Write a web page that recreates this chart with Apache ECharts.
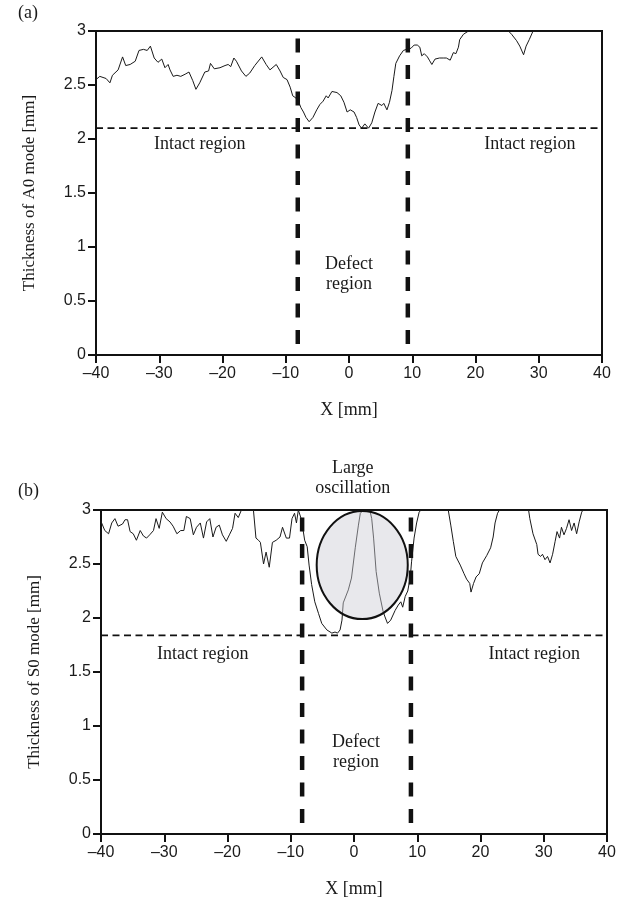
<!DOCTYPE html>
<html lang="en">
<head>
    <meta charset="utf-8">
    <title>Thickness A0 / S0</title>
    <script src="https://cdn.jsdelivr.net/npm/echarts@6/dist/echarts.min.js"></script>
    <style>
        html, body { margin: 0; height: 100%; background: #fff; }
        #main { width: 627px; height: 905px; }
    </style>
</head>
<body>
<div id="main"></div>
<script>
    // x ticks / y ticks
    var xTicks = [-40, -30, -20, -10, 0, 10, 20, 30, 40];
    var yTicks = [0, 0.5, 1, 1.5, 2, 2.5, 3];

    // (a) A0 mode thickness curve  [x mm, thickness mm]
    var curveA = [
        [-40, 2.55], [-39.4, 2.58], [-38.4, 2.56], [-37.8, 2.52], [-37.4, 2.59], [-36.5, 2.64],
        [-35.8, 2.76], [-35.3, 2.68], [-34.6, 2.69], [-33.8, 2.72], [-33.2, 2.82], [-32.5, 2.83],
        [-31.9, 2.82], [-31.4, 2.86], [-30.8, 2.75], [-30.2, 2.71], [-29.6, 2.74], [-29.1, 2.66],
        [-28.6, 2.69], [-28.3, 2.64], [-27.8, 2.58], [-27.2, 2.59], [-26.6, 2.58], [-25.9, 2.60],
        [-25.3, 2.62], [-24.7, 2.54], [-24.2, 2.46], [-23.6, 2.52], [-22.8, 2.62], [-22.2, 2.63],
        [-21.9, 2.70], [-21.3, 2.65], [-20.4, 2.66], [-19.6, 2.68], [-19.1, 2.69], [-18.7, 2.67],
        [-18.2, 2.75], [-17.8, 2.72], [-17.0, 2.63], [-16.3, 2.58], [-15.7, 2.61], [-14.9, 2.68],
        [-13.8, 2.76], [-13.1, 2.69], [-12.5, 2.64], [-11.5, 2.69], [-10.9, 2.63], [-10.4, 2.57],
        [-9.8, 2.55], [-9.3, 2.48], [-8.9, 2.40], [-8.4, 2.38], [-8.0, 2.35], [-7.6, 2.29],
        [-7.2, 2.25], [-6.8, 2.20], [-6.3, 2.16], [-5.7, 2.20], [-5.1, 2.27], [-4.6, 2.32],
        [-4.1, 2.35], [-3.6, 2.40], [-3.3, 2.38], [-2.7, 2.44], [-1.9, 2.43], [-1.3, 2.40],
        [-0.8, 2.34], [-0.3, 2.25], [0.2, 2.27], [0.8, 2.25], [1.2, 2.20], [1.6, 2.13],
        [2.0, 2.10], [2.5, 2.14], [3.1, 2.10], [3.6, 2.15], [4.1, 2.25], [4.6, 2.33],
        [5.2, 2.31], [5.5, 2.33], [6.0, 2.27], [6.4, 2.34], [6.8, 2.45], [7.1, 2.58],
        [7.4, 2.70], [8.0, 2.77], [8.6, 2.82], [9.1, 2.83], [9.8, 2.84], [10.3, 2.87],
        [10.8, 2.87], [11.2, 2.85], [11.5, 2.77], [11.9, 2.79], [12.4, 2.76], [12.7, 2.73],
        [13.1, 2.69], [13.6, 2.74], [14.3, 2.75], [14.9, 2.75], [15.4, 2.75], [16.0, 2.73],
        [16.5, 2.80], [16.9, 2.79], [17.3, 2.85], [17.5, 2.92], [18.1, 2.97], [18.9, 3.0],
        [25.2, 3.0], [25.7, 2.97], [26.5, 2.91], [27.0, 2.86], [27.6, 2.78], [28.0, 2.86],
        [28.5, 2.92], [29.1, 3.0], [40, 3.0]
    ];

    // (b) S0 mode thickness curve
    var curveB = [
        [-40, 2.9], [-39.9, 2.88], [-39.4, 2.81], [-38.8, 2.78], [-38.3, 2.88], [-37.8, 2.92],
        [-37.3, 2.85], [-36.6, 2.87], [-36.2, 2.91], [-35.8, 2.91], [-35.4, 2.80], [-34.9, 2.78],
        [-34.4, 2.72], [-33.8, 2.81], [-33.3, 2.76], [-32.8, 2.74], [-32.3, 2.77], [-31.7, 2.81],
        [-31.3, 2.92], [-30.8, 2.83], [-30.3, 2.98], [-29.7, 2.92], [-29.1, 2.89], [-28.6, 2.85],
        [-28.0, 2.78], [-27.4, 2.81], [-26.9, 2.81], [-26.5, 2.94], [-25.9, 2.92], [-25.4, 2.77],
        [-24.9, 2.84], [-24.3, 2.88], [-23.8, 2.74], [-23.3, 2.89], [-22.8, 2.92], [-22.3, 2.75],
        [-21.8, 2.84], [-21.3, 2.86], [-20.8, 2.77], [-20.2, 2.71], [-19.7, 2.77], [-19.2, 2.83],
        [-18.8, 2.97], [-18.3, 2.93], [-17.8, 3.0], [-15.9, 3.0], [-15.5, 2.74], [-15.1, 2.72],
        [-14.8, 2.70], [-14.3, 2.50], [-13.9, 2.61], [-13.4, 2.47], [-12.9, 2.70], [-12.3, 2.72],
        [-11.7, 2.75], [-11.3, 2.84], [-10.7, 2.74], [-10.2, 2.74], [-9.8, 2.92], [-9.4, 2.97],
        [-9.1, 2.88], [-8.8, 3.0], [-8.3, 2.91], [-7.8, 2.72], [-7.4, 2.66], [-7.1, 2.49],
        [-6.7, 2.31], [-6.2, 2.15], [-5.6, 2.04], [-5.1, 1.95], [-4.3, 1.89], [-3.5, 1.86],
        [-3.0, 1.87], [-2.6, 1.86], [-2.2, 1.89], [-1.9, 1.98], [-1.7, 2.14], [-0.9, 2.26],
        [-0.4, 2.37], [0.2, 2.65], [0.7, 2.86], [1.0, 2.97], [1.5, 3.0], [2.5, 3.0],
        [2.8, 2.92], [3.1, 2.74], [3.5, 2.43], [4.0, 2.23], [4.6, 2.06], [4.9, 2.01],
        [5.3, 1.95], [5.8, 1.98], [6.5, 2.07], [7.0, 2.12], [7.4, 2.15], [7.7, 2.10],
        [8.1, 2.20], [8.5, 2.25], [8.9, 2.38], [9.1, 2.52], [9.5, 2.74], [9.9, 2.88],
        [10.3, 2.98], [10.6, 3.0], [14.9, 3.0], [15.3, 2.86], [15.7, 2.71], [16.1, 2.57],
        [16.8, 2.49], [17.4, 2.41], [17.8, 2.36], [18.3, 2.32], [18.5, 2.24], [18.9, 2.32],
        [19.3, 2.38], [19.8, 2.41], [20.3, 2.51], [21.0, 2.58], [21.6, 2.65], [22.0, 2.75],
        [22.3, 2.88], [22.7, 2.97], [23.0, 3.0], [27.6, 3.0], [27.8, 2.92], [28.3, 2.78],
        [28.9, 2.68], [29.1, 2.59], [29.5, 2.57], [29.8, 2.59], [30.2, 2.54], [30.6, 2.57],
        [31.0, 2.51], [31.4, 2.59], [31.8, 2.71], [32.1, 2.80], [32.5, 2.74], [32.8, 2.84],
        [33.2, 2.77], [33.6, 2.83], [34.0, 2.91], [34.4, 2.81], [34.8, 2.88], [35.2, 2.78],
        [35.6, 2.89], [36.0, 2.98], [36.2, 3.0], [40, 3.0]
    ];

    // reference lines
    var intactA = 2.1, intactB = 1.84;          // horizontal dashed levels
    var defectA = [-8.1, 9.3], defectB = [-8.2, 9.0]; // vertical dashed positions
    var defectSpan = [2.93, 0.04];              // vertical dashed extent (top -> bottom)

    // annotations  [x, y] in data units
    var notesA = [
        { text: 'Intact region', at: [-23.6, 1.95] },
        { text: 'Intact region', at: [28.6, 1.95] },
        { text: 'Defect\nregion', at: [0, 0.75] }
    ];
    var notesB = [
        { text: 'Intact region', at: [-23.9, 1.66] },
        { text: 'Intact region', at: [28.5, 1.66] },
        { text: 'Defect\nregion', at: [0.3, 0.76] },
        { text: 'Large\noscillation', at: [-0.2, 3.29] }
    ];
    var oscEllipse = { center: [1.3, 2.49], rx: 7.2, ry: 0.5 };

    var SERIF = 'Liberation Serif';
    var SANS = 'Liberation Sans';
    var INK = '#1a1a1a';

    function xAxisOf(gi) {
        return {
            type: 'value', gridIndex: gi, min: -40, max: 40, interval: 10,
            name: 'X [mm]', nameLocation: 'middle', nameGap: 46,
            nameTextStyle: { fontFamily: SERIF, fontSize: 18, color: INK },
            axisLine: { show: true, onZero: false, lineStyle: { color: '#111', width: 2 } },
            axisTick: { show: true, length: 8, lineStyle: { color: '#111', width: 2 } },
            axisLabel: {
                fontFamily: SANS, fontSize: 16, color: INK, margin: 11,
                formatter: function (v) { return String(v).replace('-', '\u2013'); }
            },
            splitLine: { show: false }
        };
    }
    function yAxisOf(gi, title) {
        return {
            type: 'value', gridIndex: gi, min: 0, max: 3, interval: 0.5,
            name: title, nameLocation: 'middle', nameGap: 58,
            nameTextStyle: { fontFamily: SERIF, fontSize: 17, color: INK },
            axisLine: { show: true, onZero: false, lineStyle: { color: '#111', width: 2 } },
            axisTick: { show: true, length: 8, lineStyle: { color: '#111', width: 2 } },
            axisLabel: { fontFamily: SANS, fontSize: 16, color: INK, margin: 10 },
            splitLine: { show: false }
        };
    }
    function curveSeries(gi, data) {
        return {
            type: 'line', xAxisIndex: gi, yAxisIndex: gi, data: data,
            showSymbol: false, silent: true, z: 2,
            lineStyle: { color: '#1a1a1a', width: 1 }
        };
    }
    function hDash(gi, level) {
        return {
            type: 'line', xAxisIndex: gi, yAxisIndex: gi, showSymbol: false, silent: true, z: 3,
            data: [[-40, level], [40, level]],
            lineStyle: { color: '#111', width: 1.8, type: [7, 4.5] }
        };
    }
    function vDash(gi, xv) {
        return {
            type: 'line', xAxisIndex: gi, yAxisIndex: gi, showSymbol: false, silent: true, z: 4,
            data: [[xv, defectSpan[0]], [xv, defectSpan[1]]],
            lineStyle: { color: '#111', width: 4.5, type: [14, 12.5], cap: 'butt' }
        };
    }

    var chart = echarts.init(document.getElementById('main'));
    chart.setOption({
        animation: false,
        backgroundColor: '#fff',
        grid: [
            { left: 96, right: 25, top: 31, height: 324, show: true, borderColor: '#111', borderWidth: 2 },
            { left: 101, right: 20, top: 510, height: 324, show: true, borderColor: '#111', borderWidth: 2 }
        ],
        xAxis: [xAxisOf(0), xAxisOf(1)],
        yAxis: [yAxisOf(0, 'Thickness of A0 mode [mm]'), yAxisOf(1, 'Thickness of S0 mode [mm]')],
        series: [
            curveSeries(0, curveA), hDash(0, intactA), vDash(0, defectA[0]), vDash(0, defectA[1]),
            curveSeries(1, curveB), hDash(1, intactB), vDash(1, defectB[0]), vDash(1, defectB[1])
        ]
    });

    // annotations placed through the axes
    var graphics = [];
    function addNotes(gi, notes) {
        notes.forEach(function (n) {
            var p = chart.convertToPixel({ gridIndex: gi }, n.at);
            graphics.push({
                type: 'text', x: p[0], y: p[1], z: 50,
                style: {
                    text: n.text, font: '18px "' + SERIF + '"', fill: INK,
                    align: 'center', verticalAlign: 'middle', lineHeight: 20
                }
            });
        });
    }
    addNotes(0, notesA);
    addNotes(1, notesB);

    var c = chart.convertToPixel({ gridIndex: 1 }, oscEllipse.center);
    var e = chart.convertToPixel({ gridIndex: 1 },
        [oscEllipse.center[0] + oscEllipse.rx, oscEllipse.center[1] + oscEllipse.ry]);
    graphics.push({
        type: 'ellipse', z: 40,
        shape: { cx: c[0], cy: c[1], rx: Math.abs(e[0] - c[0]), ry: Math.abs(c[1] - e[1]) },
        style: { fill: 'rgba(205,205,212,0.45)', stroke: '#111', lineWidth: 2 }
    });

    graphics.push({ type: 'text', left: 18, top: 4, style: { text: '(a)', font: '18px "' + SERIF + '"', fill: INK } });
    graphics.push({ type: 'text', left: 18, top: 482, style: { text: '(b)', font: '18px "' + SERIF + '"', fill: INK } });

    chart.setOption({ graphic: graphics });
</script>
</body>
</html>
